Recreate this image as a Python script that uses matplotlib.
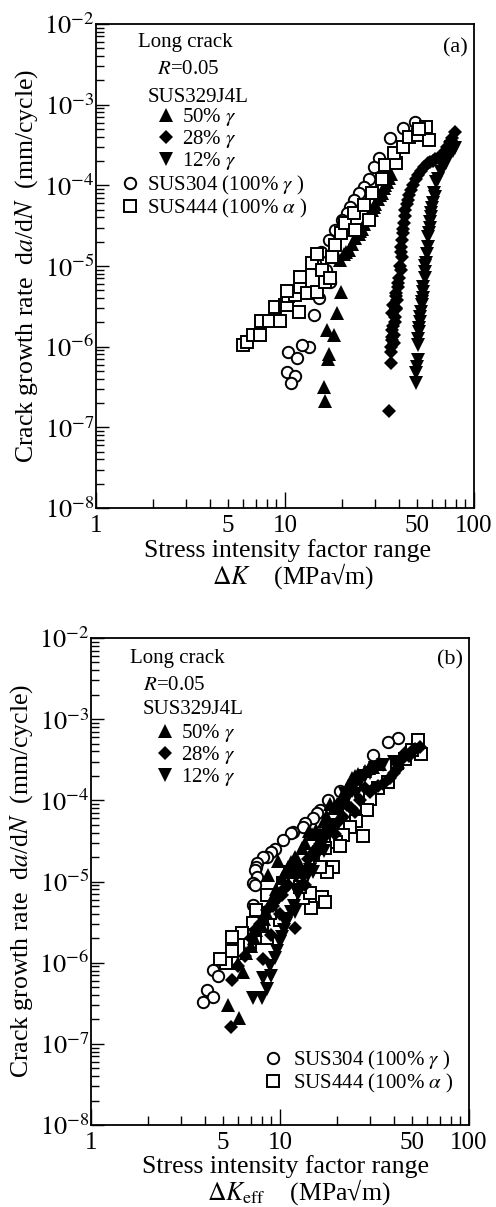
import matplotlib
matplotlib.use("Agg")
import matplotlib.pyplot as plt
from matplotlib.ticker import LogLocator, NullFormatter

plt.rcParams["font.family"] = ["Liberation Serif", "DejaVu Serif"]
plt.rcParams["mathtext.fontset"] = "stix"

# ---- (a) long crack, dK ----
a304_k = [48.5, 41.9, 35.8, 31.5, 29.6, 27.9, 26.2, 24.7, 23.3, 22.2, 21.3, 20.1, 18.5, 17.0,
          17.3, 15.5, 14.5, 16.5, 15.2, 14.2, 13.4, 12.3, 10.4, 11.6, 10.2, 11.3, 10.8]
a304_v = [6.1e-4, 5.2e-4, 3.9e-4, 2.2e-4, 1.7e-4, 1.2e-4, 9.5e-5, 8.0e-5, 6.6e-5, 5.4e-5, 4.5e-5, 3.7e-5, 2.8e-5, 2.1e-5,
          6.3e-6, 1.5e-5, 1.1e-5, 9.0e-6, 4.0e-6, 2.5e-6, 1.0e-6, 1.05e-6, 8.7e-7, 7.2e-7, 4.9e-7, 4.3e-7, 3.5e-7]

a444_k = [6.0, 6.3, 6.8, 7.4, 7.5, 8.2, 8.8, 9.4, 10.0, 10.2, 10.4, 11.3, 11.8, 12.0, 13.1, 14.8, 16.3,
          10.3, 12.0, 13.9, 15.7, 17.4, 17.8, 14.8, 18.5, 19.7, 20.8, 23.6, 27.9, 23.3, 26.2, 29.0,
          32.7, 34.0, 38.7, 37.9, 41.9, 45.4, 50.3, 58.0, 55.6, 51.2]
a444_v = [1.05e-6, 1.15e-6, 1.4e-6, 1.4e-6, 2.1e-6, 2.1e-6, 3.1e-6, 2.1e-6, 3.3e-6, 3.3e-6, 4.2e-6, 4.4e-6, 2.7e-6, 5.5e-6, 4.6e-6, 4.8e-6, 6.3e-6,
          4.9e-6, 7.4e-6, 1.1e-5, 8.9e-6, 7.1e-6, 1.3e-5, 1.4e-5, 1.8e-5, 2.6e-5, 3.4e-5, 2.8e-5, 3.7e-5, 4.6e-5, 5.7e-5, 8.0e-5,
          1.2e-4, 1.8e-4, 1.9e-4, 2.5e-4, 3.0e-4, 4.0e-4, 4.2e-4, 3.6e-4, 5.3e-4, 5.0e-4]

a50_k = [19.5, 20.5, 21.0, 21.8, 22.6, 23.5, 24.7, 25.0, 25.5, 26.2, 27.2, 27.9, 28.8, 29.5, 30.1, 31.2, 32.0, 32.7,
         33.5, 34.0, 34.7, 35.5, 36.2,
         19.7, 18.9, 16.7, 18.2, 17.1, 16.9, 16.1, 16.3]
a50_v = [1.2e-5, 1.4e-5, 1.5e-5, 1.6e-5, 1.9e-5, 2.2e-5, 2.5e-5, 2.7e-5, 2.9e-5, 3.3e-5, 3.8e-5, 4.3e-5, 5.0e-5, 5.4e-5, 5.8e-5, 6.8e-5, 7.5e-5, 8.0e-5,
         9.2e-5, 1.0e-4, 1.1e-4, 1.25e-4, 1.4e-4,
         4.7e-6, 2.6e-6, 1.6e-6, 1.4e-6, 8.0e-7, 7.0e-7, 3.2e-7, 2.1e-7]

a28_k = [79.2, 76.5, 74.4, 72.0, 70.0, 68.4, 66.5, 64.6, 62.0, 60.5, 58.5, 56.9, 54.5, 52.3, 50.8, 49.3, 47.8, 46.3,
         45.5, 44.6, 44.0, 43.4, 43.0, 42.7, 42.3, 42.0, 41.8, 41.2, 41.0, 41.4, 40.5, 40.9, 40.0, 39.8, 39.5, 39.0,
         38.8, 38.8, 38.6, 38.5, 37.5, 38.2, 37.0, 37.3, 38.0, 37.0, 37.8, 37.0, 36.9, 37.6, 36.5, 36.6, 36.2, 35.6]
a28_v = [4.6e-4, 3.9e-4, 3.4e-4, 3.0e-4, 2.7e-4, 2.4e-4, 2.3e-4, 2.2e-4, 2.1e-4, 2.0e-4, 1.95e-4, 1.9e-4, 1.7e-4, 1.5e-4, 1.35e-4, 1.2e-4, 1.0e-4, 8.8e-5,
         7.6e-5, 6.6e-5, 5.8e-5, 5.0e-5, 4.2e-5, 3.4e-5, 2.9e-5, 2.6e-5, 2.1e-5, 1.5e-5, 1.7e-5, 1.3e-5, 1.0e-5, 8.9e-6, 7.0e-6, 6.2e-6, 5.5e-6, 3.8e-6,
         4.6e-6, 4.2e-6, 2.9e-6, 3.0e-6, 3.3e-6, 2.3e-6, 2.6e-6, 1.8e-6, 2.0e-6, 1.6e-6, 1.4e-6, 1.2e-6, 1.3e-6, 1.1e-6, 1.0e-6, 8.7e-7, 6.2e-7, 1.6e-7]

a12_k = [79.0, 77.0, 75.5, 74.0, 72.3, 70.7, 68.4, 66.5, 64.6, 62.8, 62.0, 61.5, 60.5, 60.0, 59.4, 59.1, 58.7, 58.2,
         57.6, 57.0, 56.9, 56.3, 55.6, 55.2, 54.8, 54.8, 53.5, 54.0, 53.5, 53.0, 52.8, 52.2, 51.8, 51.5, 51.0, 50.9,
         50.6, 50.3, 50.3, 49.8, 49.5, 49.2]
a12_v = [2.9e-4, 2.7e-4, 3.0e-4, 2.5e-4, 2.1e-4, 1.9e-4, 1.7e-4, 1.45e-4, 1.2e-4, 1.1e-4, 7.2e-5, 8.0e-5, 6.0e-5, 5.2e-5, 4.5e-5, 4.1e-5, 3.5e-5, 3.0e-5,
         2.6e-5, 2.3e-5, 1.7e-5, 1.4e-5, 1.1e-5, 7.0e-6, 1.0e-5, 8.5e-6, 4.8e-6, 5.5e-6, 4.0e-6, 3.6e-6, 3.3e-6, 2.7e-6, 2.3e-6, 2.0e-6, 1.7e-6, 1.5e-6,
         1.25e-6, 1.05e-6, 6.8e-7, 5.6e-7, 4.7e-7, 3.5e-7]

# ---- (b) long crack, dK_eff ----
b304_k = [42.1, 37.3, 31.0, 20.8, 18.0, 16.3, 15.6, 14.9, 13.5, 13.2, 11.7, 11.5, 10.4, 9.4, 9.0, 8.5, 8.1, 7.6, 7.5,
          7.4, 7.6, 7.2, 7.4, 7.2, 4.9, 4.4, 4.7, 4.1, 4.4, 3.9]
b304_v = [5.9e-4, 5.2e-4, 3.6e-4, 1.3e-4, 1.0e-4, 7.6e-5, 7.0e-5, 6.0e-5, 5.2e-5, 4.7e-5, 4.1e-5, 4.0e-5, 3.2e-5, 2.5e-5, 2.3e-5, 2.0e-5, 2.0e-5, 1.7e-5, 1.5e-5,
          1.4e-5, 1.15e-5, 9.5e-6, 9.1e-6, 5.2e-6, 1.0e-6, 8.1e-7, 6.8e-7, 4.6e-7, 3.8e-7, 3.3e-7]

b444_k = [53.7, 56.0, 50.0, 45.8, 41.5, 37.3, 33.0, 30.0, 28.7, 25.2, 27.5, 23.4, 21.6, 19.9, 20.8, 17.3, 14.9, 19.1,
          17.7, 16.3, 16.6, 14.6, 17.3, 13.2, 14.4, 12.7, 11.3, 10.4, 10.0, 8.8, 8.5, 8.5, 8.0, 7.5, 7.2, 6.9,
          6.3, 5.6, 5.6, 5.2, 4.8]
b444_v = [5.5e-4, 3.7e-4, 4.2e-4, 3.2e-4, 2.9e-4, 1.7e-4, 1.4e-4, 1.05e-4, 7.6e-5, 5.6e-5, 3.6e-5, 4.7e-5, 3.7e-5, 3.1e-5, 2.7e-5, 2.6e-5, 1.9e-5, 1.5e-5,
          1.3e-5, 1.5e-5, 6.5e-6, 4.7e-6, 5.6e-6, 6.3e-6, 7.2e-6, 8.5e-6, 1.3e-5, 9.5e-6, 3.4e-6, 4.1e-6, 6.8e-6, 2.0e-6, 2.8e-6, 4.5e-6, 3.1e-6, 1.7e-6,
          2.3e-6, 2.1e-6, 1.4e-6, 1.0e-6, 1.1e-6]

b50_k = [5.3, 6.1, 6.4, 6.0, 6.6, 7.0, 7.3, 7.5, 7.9, 8.2, 8.4, 8.6, 9.0, 9.2, 9.5, 9.8, 10.2, 10.6, 11.0, 11.5, 12.0,
         12.5, 13.0, 13.6, 14.2, 14.8, 15.5, 16.2, 17.0, 17.7, 18.5, 19.2, 20.0, 21.5, 22.3, 23.0, 24.0, 25.0, 26.0,
         28.0, 29.5, 31.0, 34.0]
b50_v = [3.0e-7, 2.1e-7, 7.7e-7, 1.0e-6, 1.3e-6, 1.6e-6, 2.0e-6, 2.5e-6, 3.0e-6, 3.5e-6, 4.2e-6, 1.2e-5, 5.5e-6, 6.5e-6, 8.0e-6, 1.8e-5, 1.1e-5, 1.3e-5, 1.5e-5, 1.75e-5, 2.0e-5,
         1.8e-5, 2.6e-5, 3.0e-5, 4.2e-5, 3.8e-5, 4.3e-5, 3.9e-5, 5.5e-5, 6.2e-5, 9.0e-5, 8.0e-5, 9.0e-5, 1.2e-4, 1.35e-4, 1.5e-4, 1.9e-4, 2.0e-4, 2.1e-4,
         2.3e-4, 2.5e-4, 2.6e-4, 2.8e-4]

b28_k = [5.5, 5.6, 6.0, 6.5, 8.1, 12.0, 7.0, 7.4, 7.8, 8.2, 8.5, 9.0, 9.2, 9.5, 10.0, 10.2, 10.5, 11.0, 11.5, 12.2,
         12.8, 13.2, 13.5, 14.0, 14.8, 15.5, 16.2, 17.0, 17.8, 18.5, 19.5, 20.5, 21.5, 22.5, 23.8, 25.0, 26.5, 28.0,
         29.8, 31.5, 33.0, 35.0, 38.3, 40.0, 42.0, 44.0, 45.8, 48.0, 50.0, 52.0, 55.0]
b28_v = [1.6e-7, 6.2e-7, 9.0e-7, 1.2e-6, 1.1e-6, 2.7e-6, 2.0e-6, 2.5e-6, 3.0e-6, 3.6e-6, 4.5e-6, 2.2e-6, 5.0e-6, 6.0e-6, 4.0e-6, 6.8e-6, 8.0e-6, 9.0e-6, 1.3e-5, 1.2e-5,
         1.4e-5, 1.2e-5, 9.0e-6, 1.9e-5, 2.2e-5, 2.5e-5, 2.9e-5, 4.0e-5, 3.8e-5, 4.2e-5, 3.9e-5, 5.5e-5, 6.2e-5, 8.8e-5, 8.0e-5, 7.2e-5, 1.0e-4, 1.4e-4,
         1.25e-4, 1.4e-4, 1.5e-4, 1.6e-4, 1.9e-4, 2.2e-4, 2.5e-4, 3.2e-4, 3.8e-4, 3.5e-4, 4.0e-4, 4.3e-4, 4.6e-4]

b12_k = [7.2, 8.0, 8.5, 8.1, 9.0, 8.8, 9.4, 9.7, 10.0, 10.2, 10.5, 10.8, 11.0, 11.4, 11.8, 12.0, 12.2, 12.5, 13.0,
         13.5, 14.0, 14.5, 15.0, 15.5, 16.0, 16.5, 17.0, 17.5, 18.2, 19.0, 19.8, 20.5, 21.2, 22.0, 23.0, 24.0, 25.2,
         26.5, 28.0, 30.0, 32.0, 35.0, 40.0]
b12_v = [3.7e-7, 3.7e-7, 4.7e-7, 6.5e-7, 6.8e-7, 9.0e-7, 1.15e-6, 1.4e-6, 1.8e-6, 2.1e-6, 2.5e-6, 3.0e-6, 3.5e-6, 4.2e-6, 5.0e-6, 4.2e-6, 7.8e-6, 7.0e-6, 8.5e-6,
         1.3e-5, 1.2e-5, 1.4e-5, 1.3e-5, 2.0e-5, 2.3e-5, 2.7e-5, 2.4e-5, 3.6e-5, 4.2e-5, 5.0e-5, 4.6e-5, 7.0e-5, 8.2e-5, 1.2e-4, 1.1e-4, 1.3e-4, 1.2e-4,
         1.7e-4, 2.0e-4, 2.2e-4, 2.5e-4, 2.7e-4, 3.0e-4]

x_minor = [2, 3, 4, 5, 6, 7, 8, 9, 20, 30, 40, 50, 60, 70, 80, 90]
y_exps = [-8, -7, -6, -5, -4, -3, -2]

W, H = 496, 1207
fig = plt.figure(figsize=(W / 100, H / 100), dpi=100)


def px_axes(l, t, r, b):
    return fig.add_axes([l / W, 1 - b / H, (r - l) / W, (b - t) / H])


def ftext(x, y, s, **kw):
    kw.setdefault("va", "center")
    fig.text(x / W, 1 - y / H, s, **kw)


def style_axes(ax):
    ax.set_xscale("log")
    ax.set_yscale("log")
    ax.set_xlim(1, 100)
    ax.set_ylim(1e-8, 1e-2)
    ax.set_xticks([1, 10, 100], ["1", "10", "100"])
    ax.set_xticks(x_minor, [str(m) if m in (5, 50) else "" for m in x_minor], minor=True)
    ax.set_yticks([10.0 ** e for e in y_exps], [rf"$10^{{{e}}}$" for e in y_exps])
    ax.yaxis.set_minor_locator(LogLocator(base=10, subs=range(2, 10), numticks=20))
    ax.yaxis.set_minor_formatter(NullFormatter())
    ax.tick_params(which="both", direction="in", top=False, right=False, width=1.0)
    ax.tick_params(axis="x", which="both", labelsize=18, pad=5)
    ax.tick_params(axis="x", which="major", length=11.5)
    ax.tick_params(axis="x", which="minor", length=6.5)
    ax.tick_params(axis="y", which="major", length=9, labelsize=19, pad=1)
    ax.tick_params(axis="y", which="minor", length=5.5)
    for s in ax.spines.values():
        s.set_linewidth(1.3)


open_kw = dict(ls="none", mfc="white", mec="black", mew=1.4, ms=8.2)
fill_kw = dict(ls="none", color="black", mew=0)
leg_kw = dict(frameon=False, fontsize=15, borderpad=0, borderaxespad=0, handlelength=0.8,
              labelspacing=0.0, bbox_transform=fig.transFigure)
unit = "(MPa\u221am)"

# ---------------- panel (a) ----------------
ax = px_axes(96, 24, 474, 508)
style_axes(ax)
h50, = ax.plot(a50_k, a50_v, marker="^", ms=9.5, **fill_kw)
h28, = ax.plot(a28_k, a28_v, marker="D", ms=6.8, **fill_kw)
h12, = ax.plot(a12_k, a12_v, marker="v", ms=9.5, **fill_kw)
h304, = ax.plot(a304_k, a304_v, marker="o", **open_kw)
h444, = ax.plot(a444_k, a444_v, marker="s", **open_kw)

ftext(138, 43, "Long crack", fontsize=15)
ftext(157, 70, "$R$=0.05", fontsize=15)
ftext(148, 97, "SUS329J4L", fontsize=15)
ftext(455, 48, "(a)", fontsize=16, ha="center")
lg1 = ax.legend([h50, h28, h12], [r"50% $\gamma$", r"28% $\gamma$", r"12% $\gamma$"],
                loc="center left", bbox_to_anchor=(158 / W, 1 - 139 / H), handletextpad=0.35, **leg_kw)
ax.add_artist(lg1)
ax.legend([h304, h444], [r"SUS304 (100% $\gamma$ )", r"SUS444 (100% $\alpha$ )"],
          loc="center left", bbox_to_anchor=(122 / W, 1 - 197 / H), handletextpad=0.4, **leg_kw)

ftext(27, 266, r"Crack growth rate  d$a$/d$N$  (mm/cycle)", fontsize=18.5, rotation=90, ha="center")
ftext(288, 551, "Stress intensity factor range", fontsize=18.5, ha="center")
ftext(293, 576, r"$\Delta K$    " + unit, fontsize=18.5, ha="center")

# ---------------- panel (b) ----------------
ax = px_axes(91, 638, 469, 1125)
style_axes(ax)
h304, = ax.plot(b304_k, b304_v, marker="o", **open_kw)
h444, = ax.plot(b444_k, b444_v, marker="s", **open_kw)
h50, = ax.plot(b50_k, b50_v, marker="^", ms=9.5, **fill_kw)
h28, = ax.plot(b28_k, b28_v, marker="D", ms=6.8, **fill_kw)
h12, = ax.plot(b12_k, b12_v, marker="v", ms=9.5, **fill_kw)

ftext(130, 658, "Long crack", fontsize=15)
ftext(143, 685, "$R$=0.05", fontsize=15)
ftext(143, 710, "SUS329J4L", fontsize=15)
ftext(450, 660, "(b)", fontsize=16, ha="center")
lg1 = ax.legend([h50, h28, h12], [r"50% $\gamma$", r"28% $\gamma$", r"12% $\gamma$"],
                loc="center left", bbox_to_anchor=(157 / W, 1 - 755 / H), handletextpad=0.35, **leg_kw)
ax.add_artist(lg1)
ax.legend([h304, h444], [r"SUS304 (100% $\gamma$ )", r"SUS444 (100% $\alpha$ )"],
          loc="center left", bbox_to_anchor=(265 / W, 1 - 1072 / H), handletextpad=0.55, **leg_kw)

ftext(22, 881, r"Crack growth rate  d$a$/d$N$  (mm/cycle)", fontsize=18.5, rotation=90, ha="center")
ftext(285, 1167, "Stress intensity factor range", fontsize=18.5, ha="center")
ftext(299, 1192, r"$\Delta K_{\mathrm{eff}}$    " + unit, fontsize=18.5, ha="center")

fig.savefig("out.png", dpi=100)
plt.close(fig)
